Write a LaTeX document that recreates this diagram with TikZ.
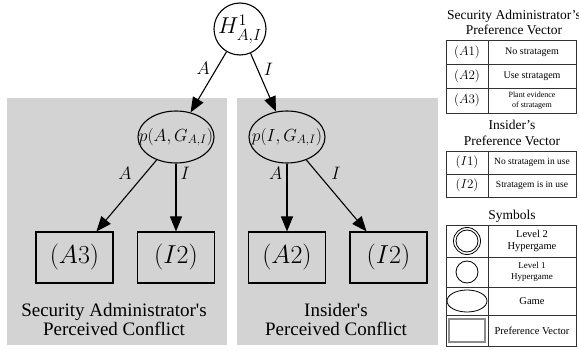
\RequirePackage{fix-cm}
\documentclass[tikz,border=0pt]{standalone}
\usepackage{fontspec}
\setmainfont{Liberation Serif}
\usepackage{amsmath}
\definecolor{PanelGray}{HTML}{D3D3D3}
\definecolor{LegendLine}{HTML}{333333}
\usepackage{tikz}
\usetikzlibrary{shapes.geometric, arrows.meta, positioning}
\tikzset{
  % Node styles
  hypernode/.style={circle, draw, line width=1.1pt, minimum size=52pt, inner sep=0pt, font=\fontsize{23}{26}\selectfont},
  gamenode/.style={ellipse, draw, line width=1.1pt, minimum width=76pt, minimum height=52pt, inner xsep=-16pt, inner ysep=0pt, font=\fontsize{17.5}{20}\selectfont},
  prefbox/.style={rectangle, draw, line width=1.1pt, minimum width=77pt, minimum height=51pt, inner sep=0pt, font=\fontsize{26}{30}\selectfont},
  edgelabel/.style={font=\fontsize{18}{20}\selectfont, inner sep=1pt},
  paneltext/.style={align=center, font=\fontsize{19}{19}\selectfont},
  % Legend styles
  legendtitle/.style={align=center, font=\fontsize{13.5}{15.5}\selectfont},
  legendsym/.style={font=\fontsize{13}{15}\selectfont},
  legendtext/.style={align=center, font=\fontsize{10}{11}\selectfont},
  legendline/.style={draw=LegendLine, line width=0.9pt},
  % Arrow styles
  arrow/.style={-{Triangle[length=15pt, width=12pt]}, line width=1.1pt}
}

\begin{document}
\begin{tikzpicture}[x=1pt, y=-1pt]
  \useasboundingbox (0,0) rectangle (579,350);

  % Perceived conflict panels
  \fill[PanelGray] (7,98) rectangle (227,345);
  \fill[PanelGray] (237,98) rectangle (438,345);

  % Hypergame tree
  \node[hypernode] (hyper) at (240,29) {$H^1_{A,I}$};
  \node[gamenode] (gameA) at (176,137) {$p(A,G_{A,I})$};
  \node[gamenode] (gameI) at (287,137) {$p(I,G_{A,I})$};

  \node[prefbox] (adminA) at (74.5,257.5) {$(A3)$};
  \node[prefbox] (adminI) at (176,257.5) {$(I2)$};
  \node[prefbox] (insiderA) at (287,257.5) {$(A2)$};
  \node[prefbox] (insiderI) at (388.5,257.5) {$(I2)$};

  \draw[arrow] (hyper) -- node[edgelabel, pos=0.28, left=5pt] {$A$} (gameA);
  \draw[arrow] (hyper) -- node[edgelabel, pos=0.27, right=5pt] {$I$} (gameI);

  \draw[arrow] (gameA) -- node[edgelabel, pos=0.19, left=12pt] {$A$} (adminA);
  \draw[arrow] (gameA) -- node[edgelabel, pos=0.14, right=3pt] {$I$} (adminI);
  \draw[arrow] (gameI) -- node[edgelabel, pos=0.14, left=3pt] {$A$} (insiderA);
  \draw[arrow] (gameI) -- node[edgelabel, pos=0.19, right=12pt] {$I$} (insiderI);

  \node[paneltext] (adminlabel) at (114,320) {Security Administrator\textquotesingle s\\Perceived Conflict};
  \node[paneltext] (insiderlabel) at (336,320) {Insider\textquotesingle s\\Perceived Conflict};

  % Security administrator's preference vector
  \node[legendtitle] (admintitle) at (514,22.5) {Security Administrator's\\Preference Vector};
  \draw[legendline] (446,40) rectangle (576,113);
  \draw[legendline] (446,64) -- (576,64) (446,88) -- (576,88) (488,40) -- (488,113);
  \foreach \y/\sym/\txt in {52/A1/No stratagem, 76/A2/Use stratagem} {
    \node[legendsym] (sym-\sym) at (467,\y) {$(\sym)$};
    \node[legendtext] (txt-\sym) at (532,\y) {\txt};
  }
  \node[legendsym] (sym-A3) at (467,100.5) {$(A3)$};
  \node[legendtext, font=\fontsize{8}{9.5}\selectfont] (txt-A3) at (532,100.5) {Plant evidence\\of stratagem};

  % Insider's preference vector
  \node[legendtitle] (insidertitle) at (512,133) {Insider's\\Preference Vector};
  \draw[legendline] (446,151) rectangle (576,197);
  \draw[legendline] (446,174) -- (576,174) (488,151) -- (488,197);
  \foreach \y/\sym/\txt in {162.5/I1/No stratagem in use, 185.5/I2/Stratagem is in use} {
    \node[legendsym] (sym-\sym) at (467,\y) {$(\sym)$};
    \node[legendtext, font=\fontsize{9.5}{11}\selectfont] (txt-\sym) at (532,\y) {\txt};
  }

  % Symbols
  \node[legendtitle] (symtitle) at (512,216) {Symbols};
  \draw[legendline] (446,225) rectangle (576,346);
  \draw[legendline] (446,257) -- (576,257) (446,287) -- (576,287) (446,315) -- (576,315) (488,225) -- (488,346);
  \draw[line width=0.8pt] (467,241) circle (13.5pt) (467,241) circle (11pt);
  \draw[line width=0.8pt] (467,272) circle (11pt);
  \draw[line width=0.8pt] (467,301) ellipse (20pt and 11pt);
  \draw[draw=black!45, line width=1.2pt] (449,319) rectangle (485,342);
  \node[legendtext, font=\fontsize{10.5}{12}\selectfont] (txt-level2) at (532,241) {Level 2\\Hypergame};
  \node[legendtext, font=\fontsize{9}{11}\selectfont] (txt-level1) at (532,272) {Level 1\\Hypergame};
  \node[legendtext, font=\fontsize{10.5}{12}\selectfont] (txt-game) at (532,301) {Game};
  \node[legendtext, font=\fontsize{10.5}{12}\selectfont] (txt-pref) at (532,330.5) {Preference Vector};
\end{tikzpicture}
\end{document}
